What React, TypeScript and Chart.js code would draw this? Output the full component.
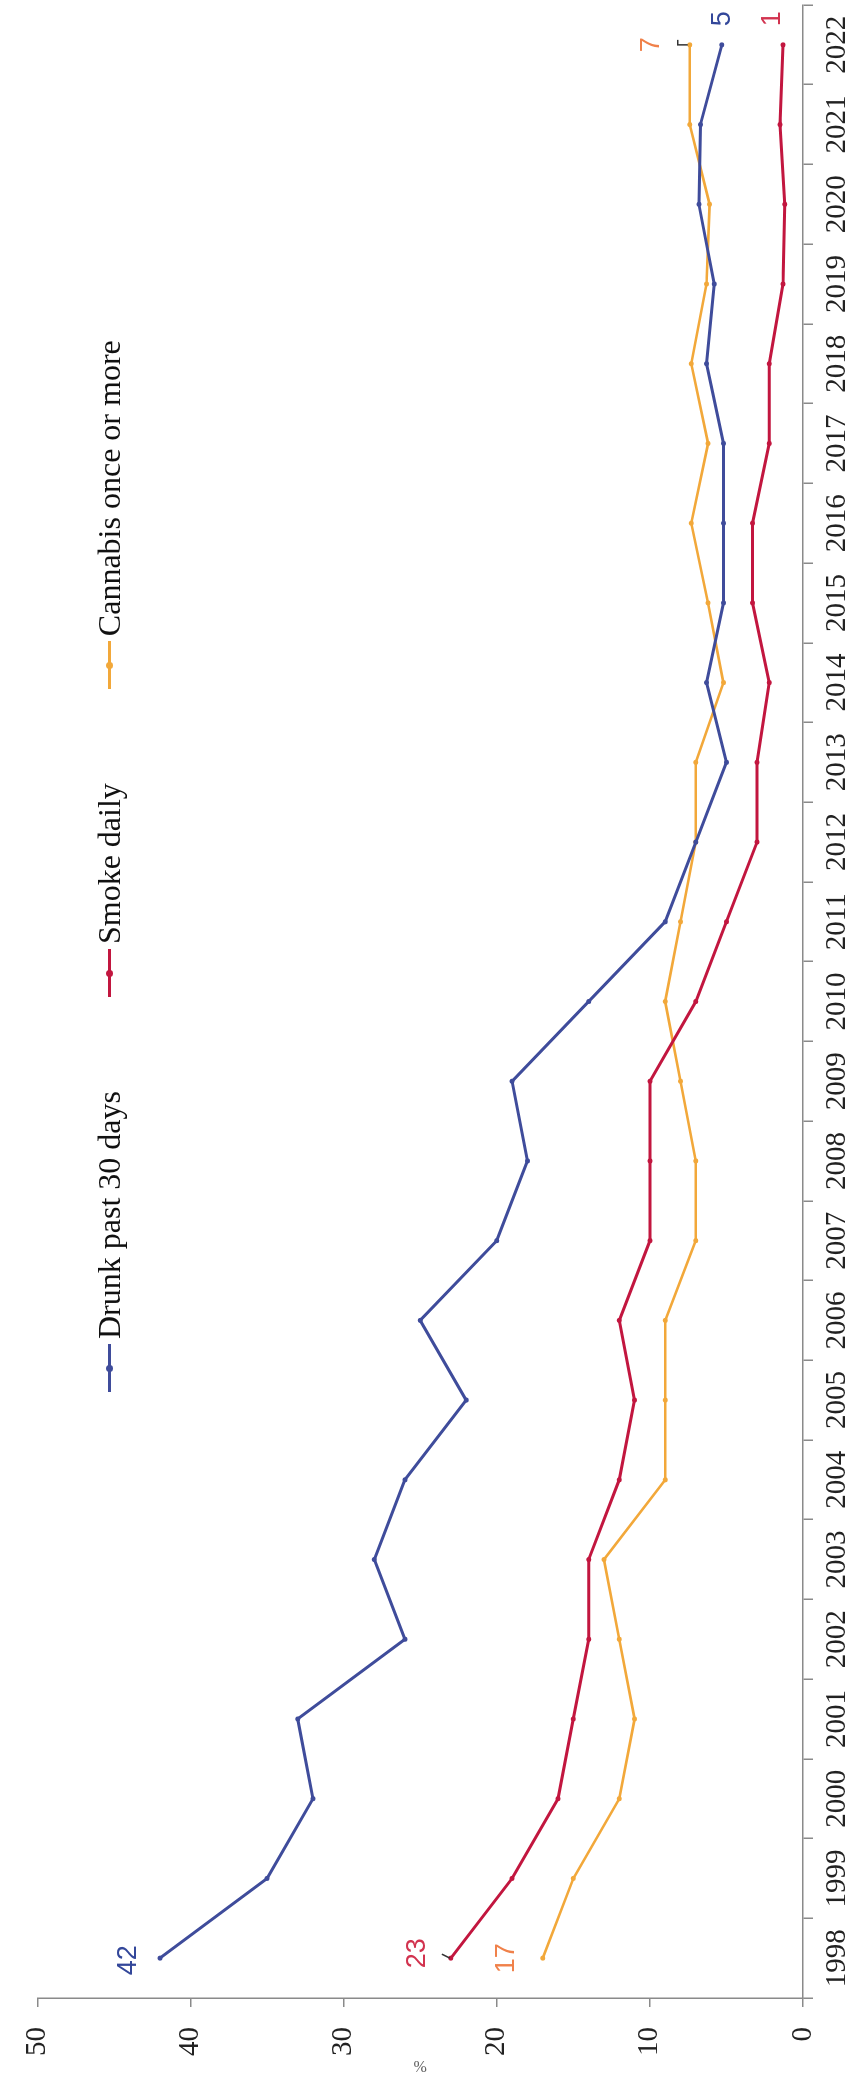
import React, { useEffect, useRef } from "react";
import { Chart, registerables } from "chart.js";

Chart.register(...registerables);

const years = [
  "1998", "1999", "2000", "2001", "2002", "2003", "2004", "2005", "2006",
  "2007", "2008", "2009", "2010", "2011", "2012", "2013", "2014", "2015",
  "2016", "2017", "2018", "2019", "2020", "2021", "2022",
];
const drunk = [42, 35, 32, 33, 26, 28, 26, 22, 25, 20, 18, 19, 14, 9, 7, 5, 6.3, 5.2, 5.2, 5.2, 6.3, 5.8, 6.8, 6.7, 5.3];
const smoke = [23, 19, 16, 15, 14, 14, 12, 11, 12, 10, 10, 10, 7, 5, 3, 3, 2.2, 3.3, 3.3, 2.2, 2.2, 1.3, 1.2, 1.5, 1.3];
const cannabis = [17, 15, 12, 11, 12, 13, 9, 9, 9, 7, 7, 8, 9, 8, 7, 7, 5.2, 6.2, 7.3, 6.2, 7.3, 6.3, 6.1, 7.4, 7.4];
const seriesNames = ["Drunk past 30 days", "Smoke daily", "Cannabis once or more"];
const firstLabels = ["42", "23", "17"];
const lastLabels = ["5", "1", "7"];
const yMin = 0;
const yMax = 50;
const yStep = 10;

const seriesColors = ["#3F4C9B", "#C2163F", "#F2A83A"];
const labelColors = ["#33479A", "#D2334F", "#F0814A"];
const firstOffsets = [[-2, -31], [5, -33], [0, -36]];
const lastOffsets = [[26, 1], [26, -11], [0, -38]];

const W = 2081;
const H = 855;
const serif = '"Liberation Serif", "Times New Roman", serif';

const endLabels = {
  id: "endLabels",
  afterDatasetsDraw(chart: any) {
    const ctx = chart.ctx;
    chart.data.datasets.forEach((_: any, i: number) => {
      const meta = chart.getDatasetMeta(i);
      const p0 = meta.data[0];
      const pn = meta.data[meta.data.length - 1];
      ctx.save();
      ctx.font = '27px "Liberation Sans", Arial, sans-serif';
      ctx.fillStyle = labelColors[i];
      ctx.textAlign = "center";
      ctx.textBaseline = "middle";
      ctx.fillText(firstLabels[i], p0.x + firstOffsets[i][0], p0.y + firstOffsets[i][1]);
      ctx.fillText(lastLabels[i], pn.x + lastOffsets[i][0], pn.y + lastOffsets[i][1]);
      ctx.restore();
    });
    // small dark leader marks seen next to two of the labels
    const redStart = chart.getDatasetMeta(1).data[0];
    const oMeta = chart.getDatasetMeta(2);
    const orangeEnd = oMeta.data[oMeta.data.length - 1];
    ctx.save();
    ctx.strokeStyle = "#333";
    ctx.lineWidth = 1.5;
    ctx.beginPath();
    ctx.moveTo(redStart.x + 4, redStart.y - 9);
    ctx.lineTo(redStart.x, redStart.y - 1);
    ctx.moveTo(orangeEnd.x, orangeEnd.y - 2);
    ctx.lineTo(orangeEnd.x, orangeEnd.y - 12);
    ctx.lineTo(orangeEnd.x + 5, orangeEnd.y - 12);
    ctx.stroke();
    ctx.restore();
  },
};

export default function App() {
  const ref = useRef<HTMLCanvasElement>(null);

  useEffect(() => {
    document.body.style.margin = "0";
    const series = [drunk, smoke, cannabis];
    const chart = new Chart(ref.current as HTMLCanvasElement, {
      type: "line",
      data: {
        labels: years,
        datasets: series.map((d, i) => ({
          label: seriesNames[i],
          data: d,
          borderColor: seriesColors[i],
          backgroundColor: seriesColors[i],
          borderWidth: i === 2 ? 2.6 : 3,
          pointRadius: 2.5,
          pointBorderWidth: 0,
          pointBackgroundColor: seriesColors[i],
          tension: 0,
          fill: false,
        })),
      },
      options: {
        responsive: false,
        animation: false,
        layout: { padding: { top: 24, right: 5, left: 0, bottom: 0 } },
        plugins: {
          legend: { display: false },
          tooltip: { enabled: false },
        },
        scales: {
          x: {
            type: "category",
            offset: true,
            grid: {
              offset: true,
              drawOnChartArea: false,
              drawTicks: true,
              tickLength: 10,
              color: "#8a8a8a",
              lineWidth: 1.5,
            },
            border: { color: "#8a8a8a", width: 1.5 },
            ticks: {
              font: { family: serif, size: 29 },
              color: "#222",
              padding: 7,
              maxRotation: 0,
              minRotation: 0,
              autoSkip: false,
            },
            afterFit: (s: any) => {
              s.height = 52;
            },
          },
          y: {
            min: yMin,
            max: yMax,
            grid: {
              drawOnChartArea: false,
              drawTicks: true,
              tickLength: 9,
              color: "#8a8a8a",
              lineWidth: 1.5,
            },
            border: { color: "#8a8a8a", width: 1.5 },
            ticks: {
              stepSize: yStep,
              font: { family: serif, size: 29 },
              color: "#222",
              padding: 20,
            },
            title: {
              display: true,
              text: "%",
              font: { family: serif, size: 16 },
              color: "#666",
              padding: { top: 6, bottom: 0 },
            },
            afterFit: (s: any) => {
              s.width = 83;
            },
          },
        },
      } as any,
      plugins: [endLabels],
    });
    return () => chart.destroy();
  }, []);

  const legendItem = (i: number) => (
    <div key={i} style={{ display: "flex", alignItems: "center", marginRight: 94 }}>
      <span
        style={{
          position: "relative",
          display: "inline-block",
          width: 48,
          height: 3,
          background: seriesColors[i],
          marginRight: 5,
        }}
      >
        <span
          style={{
            position: "absolute",
            left: 20,
            top: -2,
            width: 7,
            height: 7,
            borderRadius: "50%",
            background: seriesColors[i],
          }}
        />
      </span>
      <span style={{ fontFamily: serif, fontSize: 32, color: "#111", whiteSpace: "nowrap" }}>
        {seriesNames[i]}
      </span>
    </div>
  );

  return (
    <div style={{ position: "relative", width: 855, height: 2081, overflow: "hidden", background: "#fff" }}>
      <div
        style={{
          position: "absolute",
          left: 0,
          top: 0,
          width: W,
          height: H,
          transformOrigin: "0 0",
          transform: `translateY(${W}px) rotate(-90deg)`,
        }}
      >
        <canvas ref={ref} width={W} height={H} style={{ display: "block", width: W, height: H }} />
        <div
          style={{
            position: "absolute",
            left: 689,
            top: 89,
            height: 40,
            display: "flex",
            alignItems: "center",
          }}
        >
          {[0, 1, 2].map(legendItem)}
        </div>
      </div>
    </div>
  );
}
